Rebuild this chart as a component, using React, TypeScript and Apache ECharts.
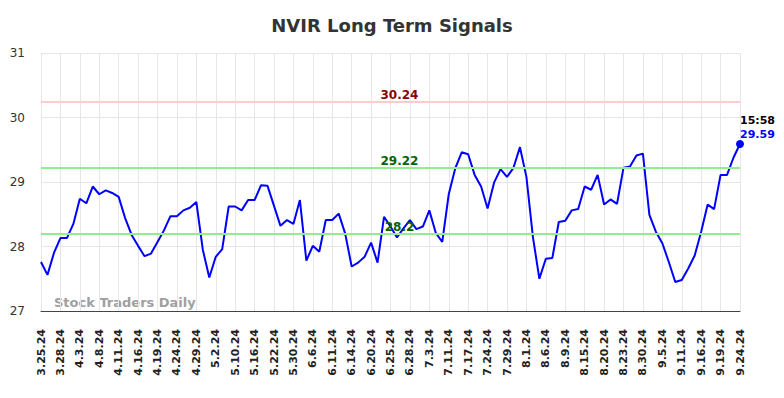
import React, { useEffect, useRef } from "react";
import * as echarts from "echarts";

const dates: string[] = [
  "3.25.24", "3.26.24", "3.27.24", "3.28.24", "4.1.24", "4.2.24", "4.3.24", "4.4.24", "4.5.24", "4.8.24",
  "4.9.24", "4.10.24", "4.11.24", "4.12.24", "4.15.24", "4.16.24", "4.17.24", "4.18.24", "4.19.24", "4.22.24",
  "4.23.24", "4.24.24", "4.25.24", "4.26.24", "4.29.24", "4.30.24", "5.1.24", "5.2.24", "5.6.24", "5.8.24",
  "5.10.24", "5.13.24", "5.15.24", "5.16.24", "5.17.24", "5.20.24", "5.22.24", "5.24.24", "5.28.24", "5.30.24",
  "6.3.24", "6.4.24", "6.6.24", "6.7.24", "6.10.24", "6.11.24", "6.12.24", "6.13.24", "6.14.24", "6.17.24",
  "6.18.24", "6.20.24", "6.21.24", "6.24.24", "6.25.24", "6.26.24", "6.27.24", "6.28.24", "7.1.24", "7.2.24",
  "7.3.24", "7.8.24", "7.9.24", "7.11.24", "7.12.24", "7.15.24", "7.17.24", "7.19.24", "7.22.24", "7.24.24",
  "7.25.24", "7.26.24", "7.29.24", "7.30.24", "7.31.24", "8.1.24", "8.2.24", "8.5.24", "8.6.24", "8.7.24",
  "8.8.24", "8.9.24", "8.12.24", "8.13.24", "8.15.24", "8.16.24", "8.19.24", "8.20.24", "8.21.24", "8.22.24",
  "8.23.24", "8.27.24", "8.29.24", "8.30.24", "9.3.24", "9.4.24", "9.5.24", "9.9.24", "9.10.24", "9.11.24",
  "9.12.24", "9.13.24", "9.16.24", "9.17.24", "9.18.24", "9.19.24", "9.20.24", "9.23.24", "9.24.24",
];

const prices: number[] = [
  27.76, 27.56, 27.9, 28.13, 28.13, 28.35, 28.74, 28.67, 28.93, 28.81,
  28.87, 28.83, 28.77, 28.44, 28.18, 28.01, 27.85, 27.89, 28.07, 28.25,
  28.47, 28.47, 28.56, 28.6, 28.69, 27.95, 27.52, 27.84, 27.96, 28.62,
  28.62, 28.56, 28.72, 28.72, 28.95, 28.94, 28.63, 28.32, 28.41, 28.35,
  28.72, 27.78, 28.01, 27.92, 28.41, 28.41, 28.51, 28.2, 27.69, 27.75,
  27.84, 28.06, 27.75, 28.46, 28.31, 28.14, 28.28, 28.41, 28.27, 28.31,
  28.56, 28.21, 28.07, 28.81, 29.21, 29.46, 29.43, 29.11, 28.93, 28.59,
  28.99, 29.2, 29.08, 29.22, 29.54, 29.08, 28.15, 27.5, 27.81, 27.82,
  28.38, 28.4, 28.56, 28.58, 28.93, 28.88, 29.11, 28.65, 28.73, 28.66,
  29.22, 29.24, 29.41, 29.44, 28.49, 28.23, 28.05, 27.76, 27.45, 27.48,
  27.66, 27.86, 28.23, 28.65, 28.58, 29.11, 29.11, 29.38, 29.59,
];

const resistanceLevel = 30.24;
const upperSupport = 29.22;
const lowerSupport = 28.2;
const lastTime = "15:58";
const yTicks = { min: 27, max: 31, step: 1 };

export default function App() {
  const ref = useRef<HTMLDivElement>(null);

  useEffect(() => {
    if (!ref.current) return;
    const chart = echarts.init(ref.current, undefined, { renderer: "svg" });
    const font = "DejaVu Sans";
    const lastIdx = prices.length - 1;
    chart.setOption({
      animation: false,
      title: {
        text: "NVIR Long Term Signals",
        left: "center",
        top: 16,
        padding: 0,
        textStyle: { fontFamily: font, fontWeight: "bold", fontSize: 18, color: "#333" },
      },
      grid: { left: 41, right: 44, top: 53, bottom: 87 },
      xAxis: {
        type: "category",
        data: dates,
        boundaryGap: false,
        axisLine: { lineStyle: { color: "#444", width: 1 } },
        axisTick: { show: false },
        axisLabel: {
          interval: 2,
          rotate: 90,
          margin: 18,
          fontSize: 11,
          fontWeight: "bold",
          color: "#222",
          fontFamily: font,
        },
        splitLine: { show: true, interval: 2, lineStyle: { color: "#e6e6e6", width: 1 } },
      },
      yAxis: {
        type: "value",
        min: yTicks.min,
        max: yTicks.max,
        interval: yTicks.step,
        axisLine: { show: false },
        axisTick: { show: false },
        axisLabel: { fontSize: 12, color: "#333", margin: 16, fontFamily: font },
        splitLine: { lineStyle: { color: "#e6e6e6", width: 1 } },
      },
      graphic: [
        {
          type: "text",
          left: 54,
          top: 296,
          silent: true,
          style: {
            text: "Stock Traders Daily",
            fill: "#a0a0a0",
            font: `bold 13px '${font}'`,
          },
        },
      ],
      series: [
        {
          type: "line",
          data: prices,
          symbol: "none",
          lineStyle: { color: "#0000ff", width: 2 },
          itemStyle: { color: "#0000ff" },
          z: 3,
          markLine: {
            silent: true,
            symbol: ["none", "none"],
            label: {
              show: true,
              position: "insideMiddleTop",
              formatter: "{c}",
              fontFamily: font,
              fontWeight: "bold",
              fontSize: 12,
              distance: 1,
              offset: [9, 0],
            },
            data: [
              { yAxis: resistanceLevel, lineStyle: { color: "#ffcccc", width: 2, type: "solid" }, label: { color: "#8b0000" } },
              { yAxis: upperSupport, lineStyle: { color: "#90ee90", width: 2, type: "solid" }, label: { color: "#006400" } },
              { yAxis: lowerSupport, lineStyle: { color: "#90ee90", width: 2, type: "solid" }, label: { color: "#006400" } },
            ],
          },
          markPoint: {
            silent: true,
            symbol: "circle",
            symbolSize: 8,
            itemStyle: { color: "#0000ff" },
            label: {
              show: true,
              position: "top",
              align: "left",
              distance: -2,
              formatter: () => `{t|${lastTime}}\n{v|${prices[lastIdx].toFixed(2)}}`,
              rich: {
                t: { color: "#000", fontWeight: "bold", fontSize: 11, lineHeight: 14, fontFamily: font },
                v: { color: "#0000ff", fontWeight: "bold", fontSize: 11, lineHeight: 14, fontFamily: font },
              },
            },
            data: [{ coord: [dates[lastIdx], prices[lastIdx]], value: prices[lastIdx] }],
          },
        },
      ],
    });
    return () => chart.dispose();
  }, []);

  return (
    <div
      ref={ref}
      style={{ position: "absolute", left: 0, top: 0, width: 784, height: 398 }}
    />
  );
}
